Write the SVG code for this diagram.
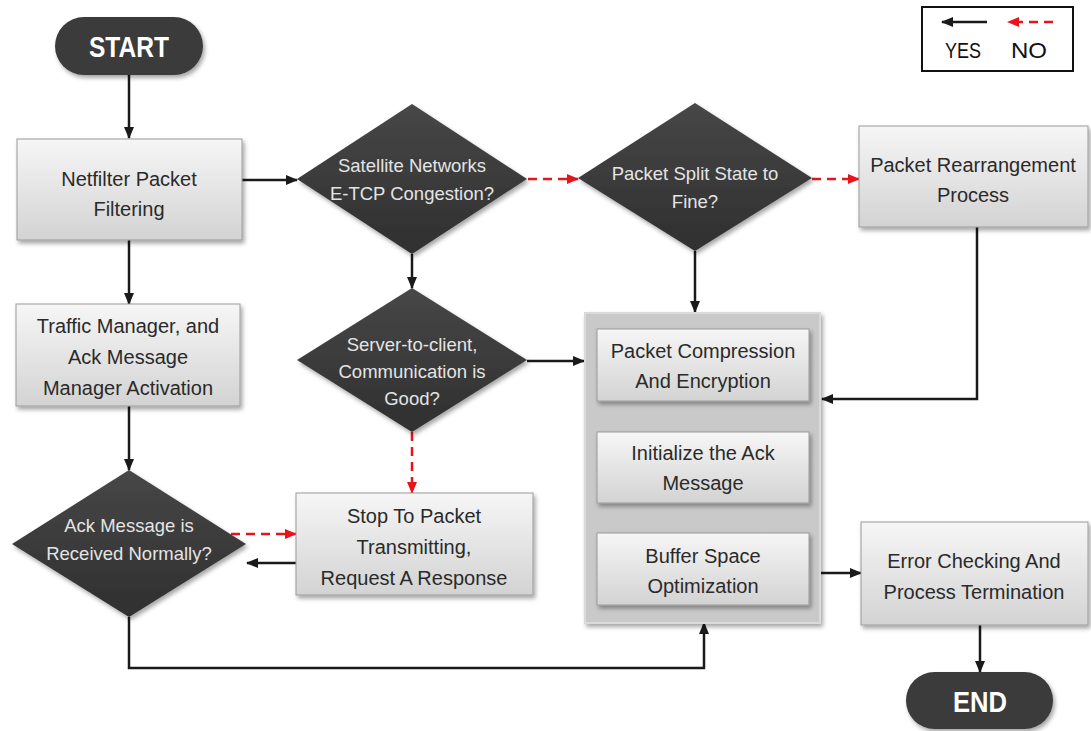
<svg xmlns="http://www.w3.org/2000/svg" width="1091" height="731" viewBox="0 0 1091 731">
<style>
.box{fill:url(#boxg);stroke:#9a9a9a;stroke-width:1;filter:url(#sh)}
.dia{fill:url(#diag);filter:url(#sh)}
.pill{fill:#3a3a3a;filter:url(#sh)}
.bt{font-family:"Liberation Sans",Arial,sans-serif;font-size:20px;fill:#2a2a2a;text-anchor:middle}
.dt{font-family:"Liberation Sans",Arial,sans-serif;font-size:18.5px;fill:#e4e4e4;text-anchor:middle}
.pt{font-family:"Liberation Sans",Arial,sans-serif;font-size:30px;font-weight:bold;fill:#ffffff;text-anchor:middle}
.lt{font-family:"Liberation Sans",Arial,sans-serif;font-size:22px;fill:#111;text-anchor:middle}
.yes{fill:none;stroke:#1a1a1a;stroke-width:2.5}
.no{fill:none;stroke:#e8141b;stroke-width:2.5;stroke-dasharray:9 6}
</style>
<defs>
<linearGradient id="boxg" x1="0" y1="0" x2="0" y2="1">
<stop offset="0" stop-color="#f6f6f6"/>
<stop offset="1" stop-color="#d3d3d3"/>
</linearGradient>
<linearGradient id="diag" x1="0" y1="0" x2="0" y2="1">
<stop offset="0" stop-color="#474747"/>
<stop offset="1" stop-color="#2f2f2f"/>
</linearGradient>
<filter id="sh" x="-10%" y="-10%" width="130%" height="130%">
<feDropShadow dx="2" dy="3" stdDeviation="2" flood-color="#000" flood-opacity="0.35"/>
</filter>
<marker id="ab" markerWidth="12" markerHeight="10" refX="11" refY="5" orient="auto" markerUnits="userSpaceOnUse">
<path d="M0,0 L12,5 L0,10 z" fill="#1a1a1a"/>
</marker>
<marker id="ar" markerWidth="12" markerHeight="10" refX="11" refY="5" orient="auto" markerUnits="userSpaceOnUse">
<path d="M0,0 L12,5 L0,10 z" fill="#e8141b"/>
</marker>
</defs>
<rect width="1091" height="731" fill="#ffffff"/>

<g id="connectors">
<path class="yes" d="M129,75 V138" marker-end="url(#ab)"/>
<path class="yes" d="M242,180 H297" marker-end="url(#ab)"/>
<path class="yes" d="M129,240 V304" marker-end="url(#ab)"/>
<path class="yes" d="M129,406 V470" marker-end="url(#ab)"/>
<path class="no" d="M528,179 H578" marker-end="url(#ar)"/>
<path class="no" d="M812,179 H859" marker-end="url(#ar)"/>
<path class="yes" d="M412,254 V288" marker-end="url(#ab)"/>
<path class="yes" d="M695,251 V312" marker-end="url(#ab)"/>
<path class="yes" d="M977,227 V399 H822" marker-end="url(#ab)"/>
<path class="yes" d="M527,361 H584" marker-end="url(#ab)"/>
<path class="no" d="M412,432 V493" marker-end="url(#ar)"/>
<path class="no" d="M231,534 H296" marker-end="url(#ar)"/>
<path class="yes" d="M296,563 H247" marker-end="url(#ab)"/>
<path class="yes" d="M129,617 V668 H704 V623" marker-end="url(#ab)"/>
<path class="yes" d="M820,573 H861" marker-end="url(#ab)"/>
<path class="yes" d="M980,625 V672" marker-end="url(#ab)"/>
</g>

<g id="start">
<rect class="pill" x="55" y="17" width="148" height="58" rx="29"/>
<text class="pt" x="129" y="57" textLength="80" lengthAdjust="spacingAndGlyphs">START</text>
</g>

<g id="netfilter">
<rect class="box" x="17" y="139" width="225" height="101"/>
<text class="bt" x="129" y="186">Netfilter Packet</text>
<text class="bt" x="129" y="216">Filtering</text>
</g>

<g id="traffic">
<rect class="box" x="16" y="304" width="224" height="102"/>
<text class="bt" x="128" y="333">Traffic Manager, and</text>
<text class="bt" x="128" y="364">Ack Message</text>
<text class="bt" x="128" y="395">Manager Activation</text>
</g>

<g id="ack">
<polygon class="dia" points="12,544 129,470 246,544 129,617"/>
<text class="dt" x="129" y="532">Ack Message is</text>
<text class="dt" x="129" y="560">Received Normally?</text>
</g>

<g id="satellite">
<polygon class="dia" points="297,179 412,104 527,179 412,254"/>
<text class="dt" x="412" y="172">Satellite Networks</text>
<text class="dt" x="412" y="200">E-TCP Congestion?</text>
</g>

<g id="split">
<polygon class="dia" points="578,178 695,103 812,178 695,251"/>
<text class="dt" x="695" y="180">Packet Split State to</text>
<text class="dt" x="695" y="208">Fine?</text>
</g>

<g id="rearrange">
<rect class="box" x="859" y="126" width="229" height="101"/>
<text class="bt" x="973" y="172">Packet Rearrangement</text>
<text class="bt" x="973" y="202">Process</text>
</g>

<g id="server">
<polygon class="dia" points="297,360 412,288 527,360 412,432"/>
<text class="dt" x="412" y="351">Server-to-client,</text>
<text class="dt" x="412" y="378">Communication is</text>
<text class="dt" x="412" y="405">Good?</text>
</g>

<g id="stop">
<rect class="box" x="296" y="493" width="237" height="102"/>
<text class="bt" x="414" y="523">Stop To Packet</text>
<text class="bt" x="414" y="554">Transmitting,</text>
<text class="bt" x="414" y="585">Request A Response</text>
</g>

<g id="group">
<rect x="585" y="313" width="235" height="310" fill="#c9c9c9" stroke="#dadada" stroke-width="2" filter="url(#sh)"/>
<g id="compression">
<rect class="box" x="597" y="329" width="212" height="72"/>
<text class="bt" x="703" y="358">Packet Compression</text>
<text class="bt" x="703" y="388">And Encryption</text>
</g>
<g id="initialize">
<rect class="box" x="597" y="432" width="212" height="71"/>
<text class="bt" x="703" y="460">Initialize the Ack</text>
<text class="bt" x="703" y="490">Message</text>
</g>
<g id="buffer">
<rect class="box" x="597" y="533" width="212" height="72"/>
<text class="bt" x="703" y="563">Buffer Space</text>
<text class="bt" x="703" y="593">Optimization</text>
</g>
</g>

<g id="error">
<rect class="box" x="861" y="522" width="227" height="103"/>
<text class="bt" x="974" y="568">Error Checking And</text>
<text class="bt" x="974" y="599">Process Termination</text>
</g>

<g id="end">
<rect class="pill" x="906" y="672" width="147" height="57" rx="28.5"/>
<text class="pt" x="980" y="712" textLength="54" lengthAdjust="spacingAndGlyphs">END</text>
</g>

<g id="legend">
<rect x="922" y="7" width="151" height="64" fill="#ffffff" stroke="#111" stroke-width="2"/>
<path class="yes" d="M987,22 H942" marker-end="url(#ab)"/>
<path class="no" d="M1053,22 H1008" marker-end="url(#ar)"/>
<text class="lt" x="963" y="58" textLength="36" lengthAdjust="spacingAndGlyphs">YES</text>
<text class="lt" x="1029" y="58" textLength="36" lengthAdjust="spacingAndGlyphs">NO</text>
</g>
</svg>
